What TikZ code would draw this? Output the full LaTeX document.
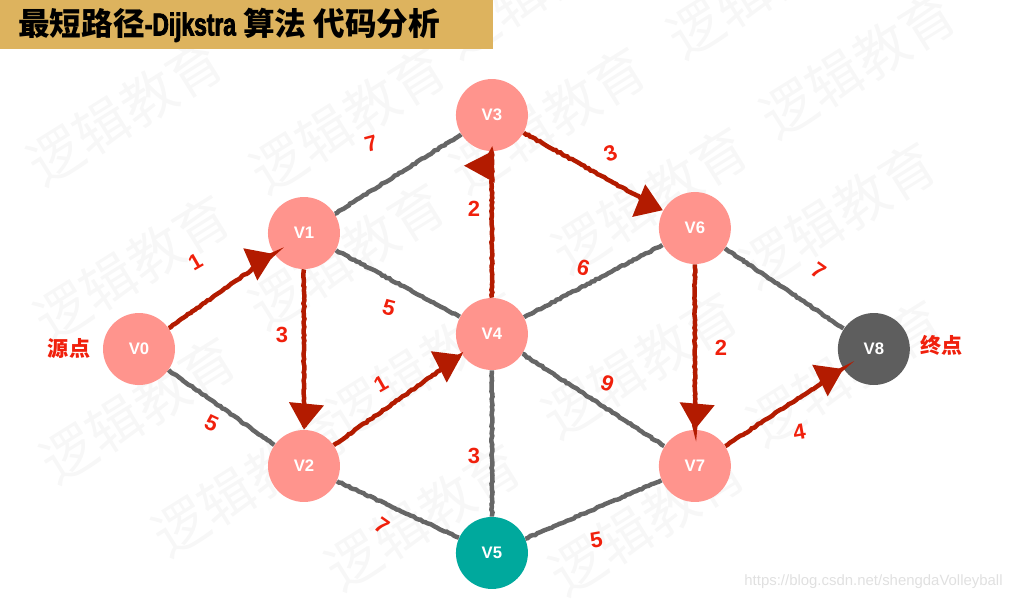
\documentclass[tikz,border=0pt]{standalone}
\usepackage{fontspec}
\setmainfont{Liberation Sans}
\newfontfamily\cjk{Noto Sans CJK SC}
\newfontfamily\heavyfont{Liberation Sans Bold}[FakeStretch=0.72,FakeBold=2.5]
\usetikzlibrary{positioning,arrows.meta,decorations.pathmorphing}
\definecolor{band}{HTML}{DDB35E}
\definecolor{pinknode}{HTML}{FF948D}
\definecolor{tealnode}{HTML}{00A99D}
\definecolor{darknode}{HTML}{5E5E5E}
\definecolor{roadgray}{HTML}{666666}
\definecolor{roadred}{HTML}{B31B00}
\definecolor{tagred}{HTML}{F0200C}
\tikzset{
  vertex/.style={circle,fill=pinknode,minimum size=1.44cm,inner sep=0pt,text=white,font=\fontsize{9.5}{11}\bfseries},
  sketch/.style={decorate,decoration={random steps,segment length=1.5pt,amplitude=.35pt}},
  road/.style={every edge/.style={draw,roadgray,line width=.09cm,sketch}},
  redroad/.style={every edge/.style={draw,roadred,line width=.09cm,sketch,-{Triangle[length=.52cm,width=.68cm]}}},
  wlabel/.style 2 args={text=tagred,font=\fontsize{12.5}{14}\bfseries,inner sep=0pt,xshift=#1*.02cm,yshift=-#2*.02cm},
  endlabel/.style={text=tagred,font=\fontsize{12}{14}\bfseries\cjk,inner sep=0pt},
  mark text/.style={text=black!3,font=\fontsize{31}{33}\cjk,rotate=32,inner sep=0pt}
}
\begin{document}
\begin{tikzpicture}[x=.02cm,y=-.02cm,on grid]
   \useasboundingbox (0,0) rectangle (1012,600);
   % watermark
   \begin{scope}
   \clip (0,0) rectangle (1012,600);
   \foreach \mx/\my in {125/112,348/120,548/120,540/-15,765/-15,858/65,132/268,347/256,
       650/200,838/215,138/410,425/365,640/365,845/373,250/483,423/517,647/522}
     \node[mark text] at (\mx,\my) {逻辑教育};
   \end{scope}
   \fill[band] (0,0) rectangle (493,49);
   \node[anchor=west,inner sep=0pt,font=\fontsize{18}{20}\bfseries\cjk] (title) at (18,25)
     {最短路径{\heavyfont -Dijkstra} 算法 代码分析};
   % vertices
   \node[vertex] (v0) at (139,349) {V0};
   \node[vertex] (v1) [above right=2.32cm and 3.3cm of v0] {V1};
   \node[vertex] (v2) [below right=2.34cm and 3.3cm of v0] {V2};
   \node[vertex] (v3) [above right=2.36cm and 3.76cm of v1] {V3};
   \node[vertex] (v4) [below right=2.02cm and 3.76cm of v1] {V4};
   \node[vertex,fill=tealnode] (v5) [below=4.38cm of v4] {V5};
   \node[vertex] (v6) [above right=2.12cm and 4.06cm of v4] {V6};
   \node[vertex] (v7) [below=4.76cm of v6] {V7};
   \node[vertex,fill=darknode] (v8) [below right=2.42cm and 3.58cm of v6] {V8};
   \node[endlabel] (src) [left=1.4cm of v0] {源点};
   \node[endlabel,yshift=.08cm] (dst) [right=1.36cm of v8] {终点};
   % edges
   \path[road]
    (v0) edge node[wlabel={-10}{16},rotate=-25] {5} (v2)
    (v1) edge node[wlabel={-27}{-30},rotate=15] {7} (v3)
         edge node[wlabel={-9}{24},rotate=-15] {5} (v4)
    (v2) edge node[wlabel={-16}{16},rotate=-35] {7} (v5)
    (v4) edge node[wlabel={-18}{12}] {3} (v5)
         edge node[wlabel={-10}{-13},rotate=-15] {6} (v6)
         edge node[wlabel={14}{-17},rotate=-20] {9} (v7)
    (v5) edge node[wlabel={3}{31},rotate=10] {5} (v7)
    (v6) edge node[wlabel={34}{-18},rotate=-35] {7} (v8);
   \path[redroad]
    (v0) edge node[wlabel={-26}{-29},rotate=30] {1} (v1)
    (v1) edge node[wlabel={-22}{-15}] {3} (v2)
    (v2) edge node[wlabel={-17}{-16},rotate=30] {1} (v4)
    (v4) edge node[wlabel={-18}{-16}] {2} (v3)
    (v3) edge node[wlabel={17}{-18},rotate=20] {3} (v6)
    (v6) edge node[wlabel={26}{1}] {2} (v7)
    (v7) edge node[wlabel={15}{25},rotate=10] {4} (v8);
   \node[anchor=east,inner sep=0pt,text=black!12,font=\fontsize{8.5}{10}\selectfont] (url) at (1003,582)
     {https://blog.csdn.net/shengdaVolleyball};
\end{tikzpicture}
\end{document}
